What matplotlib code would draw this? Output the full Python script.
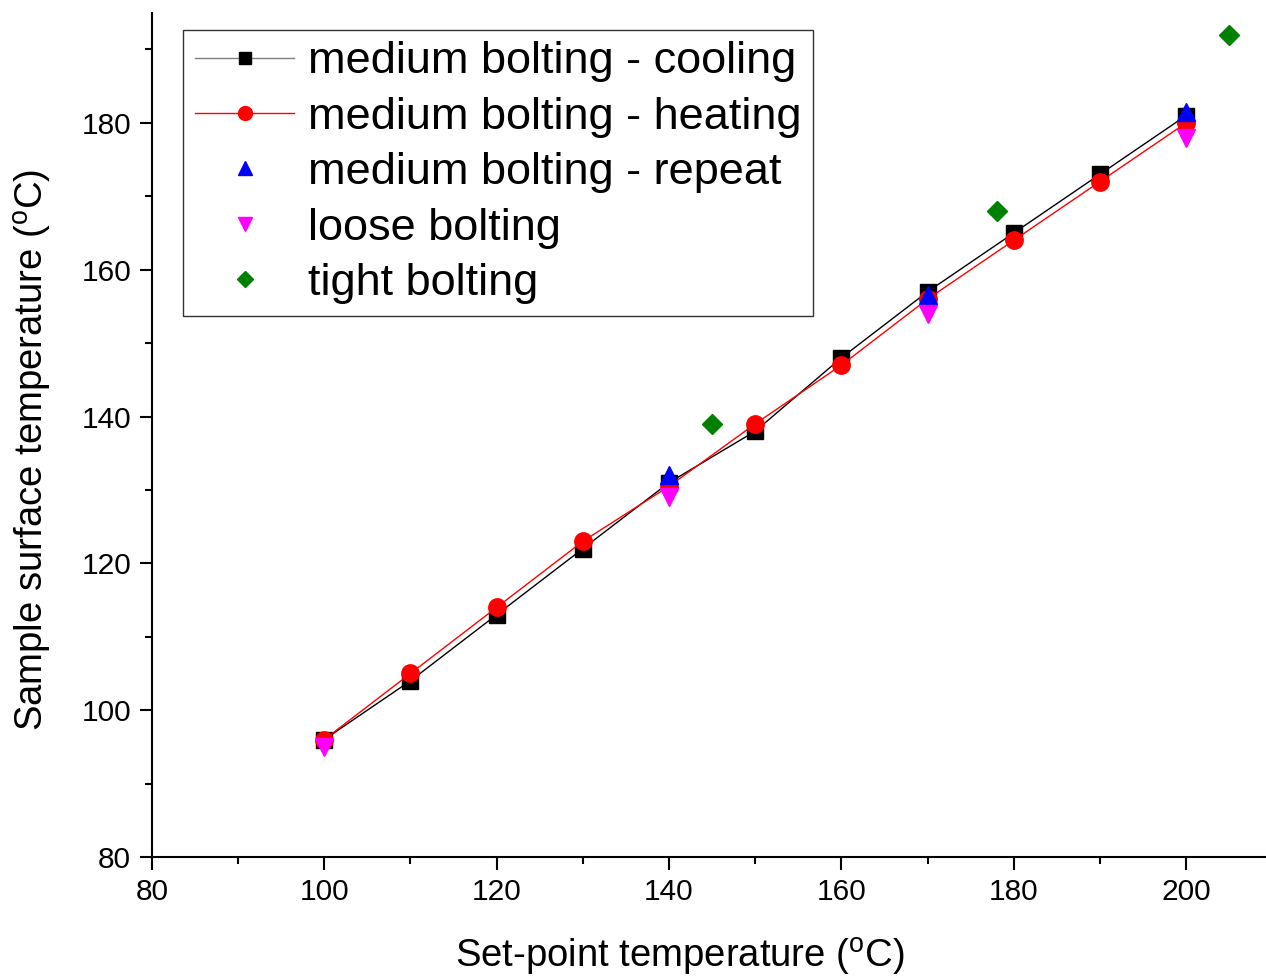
import matplotlib
matplotlib.use('Agg')
import matplotlib.pyplot as plt
from matplotlib.ticker import MultipleLocator

plt.rcParams['font.family'] = ['Liberation Sans', 'DejaVu Sans']
plt.rcParams['mathtext.fontset'] = 'custom'
plt.rcParams['mathtext.rm'] = 'Liberation Sans'

# data
set_point = [100, 110, 120, 130, 140, 150, 160, 170, 180, 190, 200]
cooling = [96, 104, 113, 122, 131, 138, 148, 157, 165, 173, 181]
heating = [96, 105, 114, 123, 130.5, 139, 147, 156, 164, 172, 180]

repeat_x = [140, 170, 200]
repeat_y = [132, 156.5, 181.5]

loose_x = [100, 140, 170, 200]
loose_y = [95, 129, 154, 178]

tight_x = [145, 178, 205]
tight_y = [139, 168, 192]

fig = plt.figure(figsize=(12.66, 9.8), dpi=100)
ax = fig.add_axes([0.120, 0.1255, 0.885, 0.8615])

ax.plot(set_point, cooling, color='black', lw=1.0, marker='s', ms=11,
        label='medium bolting - cooling')
ax.plot(set_point, heating, color='red', lw=1.0, marker='o', ms=12.5,
        label='medium bolting - heating')
ax.plot(repeat_x, repeat_y, ls='none', color='blue', marker='^', ms=13,
        label='medium bolting - repeat')
ax.plot(loose_x, loose_y, ls='none', color='magenta', marker='v', ms=13,
        label='loose bolting')
ax.plot(tight_x, tight_y, ls='none', color='green', marker='D', ms=10,
        label='tight bolting')

ax.set_xlim(80, 210)
ax.set_ylim(80, 195)
ax.xaxis.set_major_locator(MultipleLocator(20))
ax.xaxis.set_minor_locator(MultipleLocator(10))
ax.yaxis.set_major_locator(MultipleLocator(20))
ax.yaxis.set_minor_locator(MultipleLocator(10))

for s in ['top', 'right']:
    ax.spines[s].set_visible(False)
for s in ['left', 'bottom']:
    ax.spines[s].set_linewidth(1.5)

ax.tick_params(which='major', direction='out', length=9, width=1.5,
               labelsize=21.5, pad=6)
ax.tick_params(which='minor', direction='out', length=5, width=1.5)

ax.set_xlabel(r'Set-point temperature ($^{\rm o}$C)', fontsize=27.5)
ax.set_ylabel(r'Sample surface temperature ($^{\rm o}$C)', fontsize=27.5)
ax.xaxis.set_label_coords(0.471, -0.094)
ax.yaxis.set_label_coords(-0.087, 0.482)

leg = ax.legend(loc='upper left', bbox_to_anchor=(0.028, 0.98), fontsize=32.5,
                frameon=True, fancybox=False, edgecolor='black',
                markerscale=0.8, handlelength=2.2, handletextpad=0.3,
                labelspacing=0.32, borderpad=0.26, borderaxespad=0)
leg.get_frame().set_linewidth(1.0)
leg.get_lines()[0].set_color('gray')
leg.get_lines()[0].set_markerfacecolor('black')
leg.get_lines()[0].set_markeredgecolor('black')

fig.savefig('out.png', dpi=100)
